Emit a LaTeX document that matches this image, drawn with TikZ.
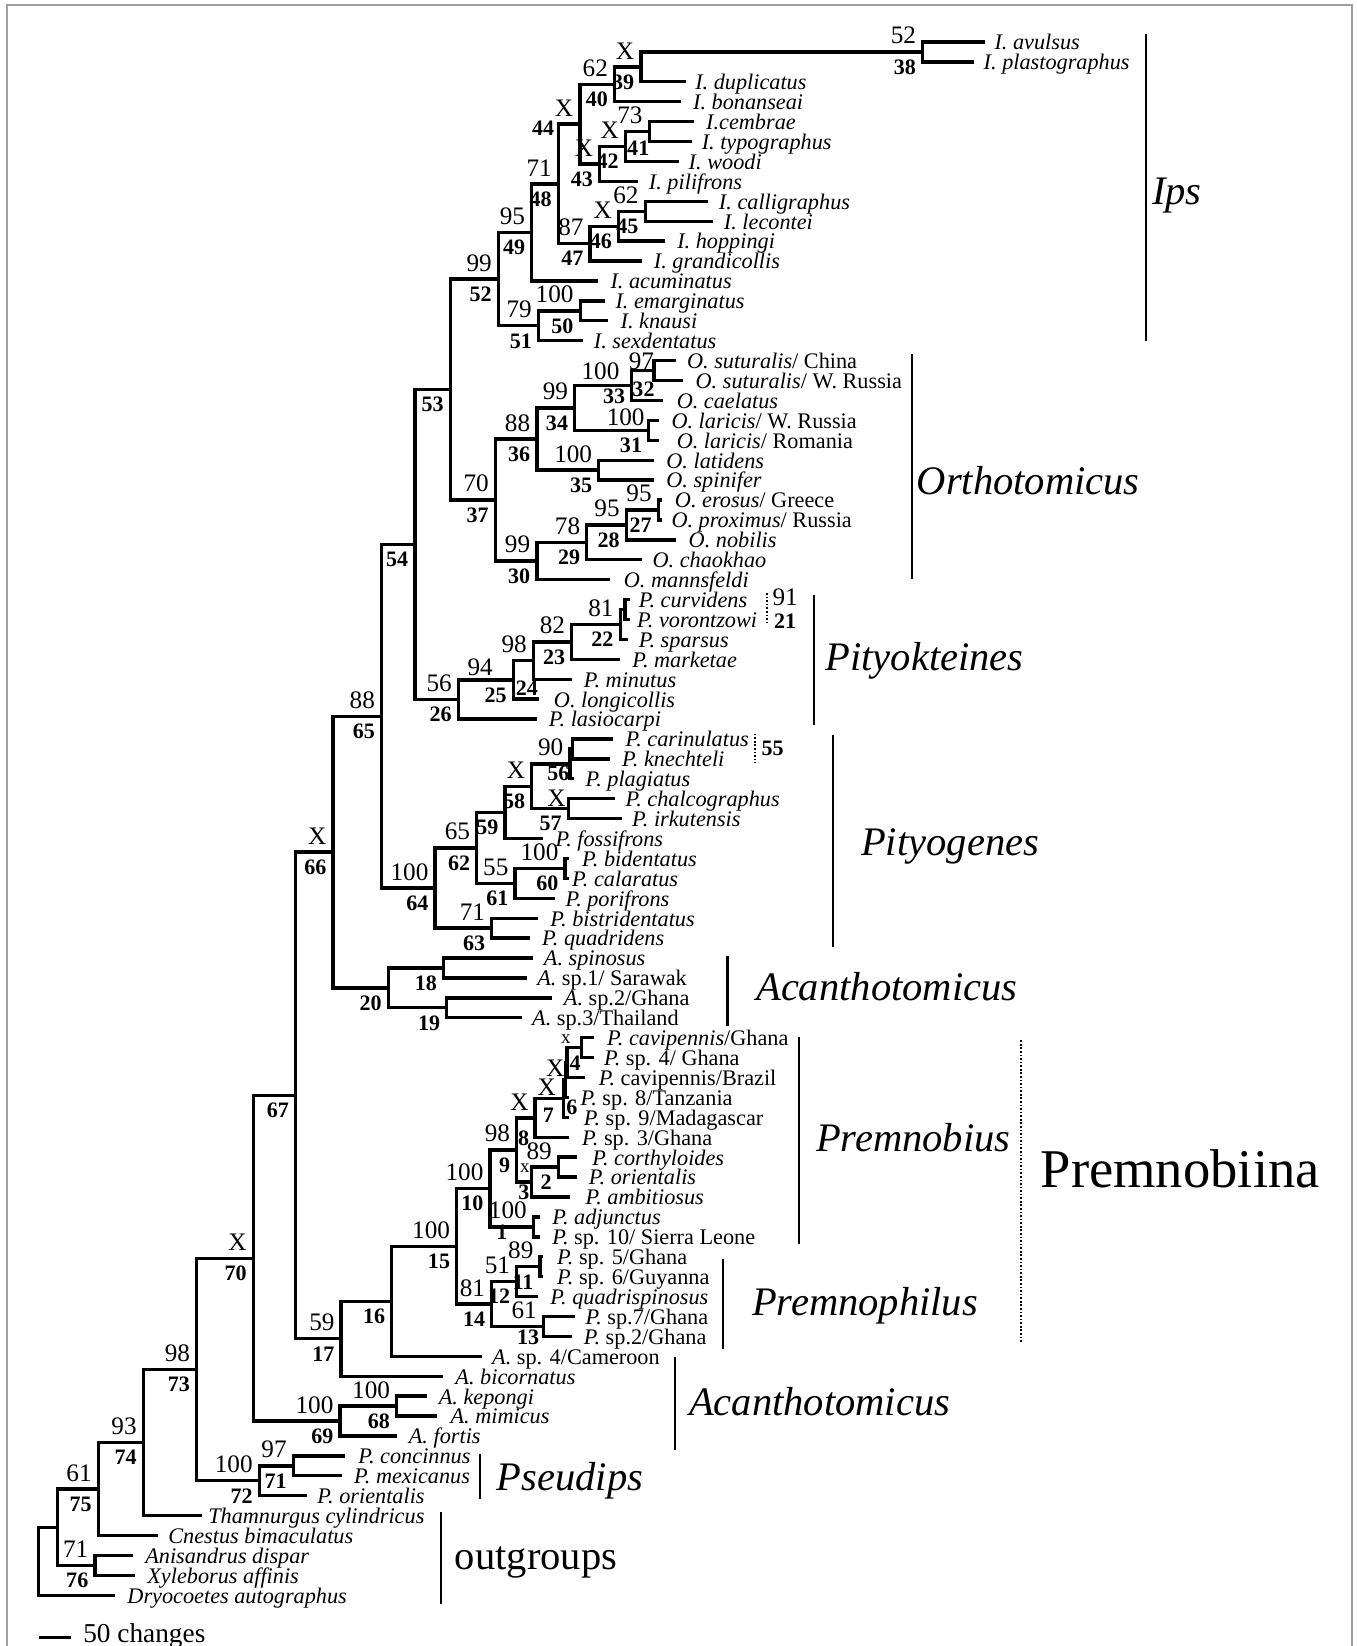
\documentclass[tikz,border=0pt]{standalone}
\usepackage{fontspec}
\setmainfont{Liberation Serif}
\usetikzlibrary{calc}
\newcommand\supfont{\fontsize{12}{13}\selectfont}
\newcommand\numfont{\fontsize{10.5}{12}\selectfont\bfseries}
\newcommand\mytip[4]{%
  \coordinate (e#1) at (#2,{40+18.97*(#1-1)});
  \node[tiplbl] (t#1) at (#3,{40+18.97*(#1-1)+7.5}) {#4};}
\newcommand\inode[4]{%
  \coordinate (#1x) at (#2,0);
  \coordinate (#1m) at ($(#3)!.5!(#4)$);
  \coordinate (#1) at (#1x |- #1m);
  \draw[br] (#3) -| (#1) |- (#4);}
\newcommand\sv[2]{\node[sup] (#1s) at (#1) {#2};}
\newcommand\nv[2]{\node[num] (#1n) at (#1) {#2};}
\begin{document}
\begin{tikzpicture}[x=0.5pt,y=-0.5pt,
 br/.style={line width=1.6pt, line cap=rect, line join=miter},
 bar/.style={line width=1pt},
 dotbar/.style={line width=0.8pt, dash pattern=on 0.8pt off 0.9pt},
 tiplbl/.style={anchor=base west, inner sep=0pt, font=\fontsize{10.6}{12}\selectfont},
 sup/.style={anchor=south east, inner sep=0pt, xshift=-3pt, yshift=3.5pt, font=\supfont},
 num/.style={anchor=north east, inner sep=0pt, xshift=-3pt, yshift=-3.5pt, font=\numfont},
 freesup/.style={inner sep=0pt, anchor=center, font=\supfont},
 freenum/.style={inner sep=0pt, anchor=center, font=\numfont},
 clade/.style={anchor=base west, inner sep=0pt, font=\fontsize{19.3}{22}\selectfont\itshape}]
\useasboundingbox (0,0) rectangle (1292,1568);
% frame
\coordinate (f1) at (6.5,1570); \coordinate (f2) at (6.5,4.8);
\coordinate (f3) at (1288,4.8); \coordinate (f4) at (1288,1570);
\draw[gray!75, line width=0.8pt] (f1) -- (f2) -- (f3) -- (f4);
% tips
\mytip{1}{936.7}{947}{\textit{I. avulsus}}
\mytip{2}{926.4}{936.7}{\textit{I. plastographus}}
\mytip{3}{651.6}{661.9}{\textit{I. duplicatus}}
\mytip{4}{647.5}{659.9}{\textit{I. bonanseai}}
\mytip{5}{659.9}{672.3}{\textit{I.cembrae}}
\mytip{6}{657.8}{668.1}{\textit{I. typographus}}
\mytip{7}{645.4}{655.7}{\textit{I. woodi}}
\mytip{8}{606.6}{617.8}{\textit{I. pilifrons}}
\mytip{9}{673.3}{684.5}{\textit{I. calligraphus}}
\mytip{10}{678}{689.2}{\textit{I. lecontei}}
\mytip{11}{632}{644.8}{\textit{I. hoppingi}}
\mytip{12}{609.8}{622.5}{\textit{I. grandicollis}}
\mytip{13}{568.5}{581.2}{\textit{I. acuminatus}}
\mytip{14}{575}{586}{\textit{I. emarginatus}}
\mytip{15}{578}{590.8}{\textit{I. knausi}}
\mytip{16}{554.2}{565.4}{\textit{I. sexdentatus}}
\mytip{17}{642.6}{654.1}{\textit{O. suturalis}/ China}
\mytip{18}{649.2}{662.3}{\textit{O. suturalis}/ W. Russia}
\mytip{19}{629.5}{644.3}{\textit{O. caelatus}}
\mytip{20}{626.2}{639.3}{\textit{O. laricis}/ W. Russia}
\mytip{21}{626.2}{644.3}{\textit{O. laricis}/ Romania}
\mytip{22}{621.3}{634.4}{\textit{O. latidens}}
\mytip{23}{621.3}{634.4}{\textit{O. spinifer}}
\mytip{24}{629}{642.6}{\textit{O. erosus}/ Greece}
\mytip{25}{629}{639.3}{\textit{O. proximus}/ Russia}
\mytip{26}{642.6}{655.7}{\textit{O. nobilis}}
\mytip{27}{609.8}{621.3}{\textit{O. chaokhao}}
\mytip{28}{579.7}{593.9}{\textit{O. mannsfeldi}}
\mytip{29}{598.7}{608.2}{\textit{P. curvidens}}
\mytip{30}{598.7}{606.6}{\textit{P. vorontzowi}}
\mytip{31}{597.1}{608.2}{\textit{P. sparsus}}
\mytip{32}{589.2}{601.9}{\textit{P. marketae}}
\mytip{33}{543.1}{555.8}{\textit{P. minutus}}
\mytip{34}{511.4}{527.3}{\textit{O. longicollis}}
\mytip{35}{509.8}{522.5}{\textit{P. lasiocarpi}}
\mytip{36}{582.8}{595.5}{\textit{P. carinulatus}}
\mytip{37}{579.6}{592.3}{\textit{P. knechteli}}
\mytip{38}{545}{557.4}{\textit{P. plagiatus}}
\mytip{39}{584.4}{595.5}{\textit{P. chalcographus}}
\mytip{40}{590.7}{601.8}{\textit{P. irkutensis}}
\mytip{41}{516.1}{528.8}{\textit{P. fossifrons}}
\mytip{42}{540}{554.2}{\textit{P. bidentatus}}
\mytip{43}{540}{544.7}{\textit{P. calaratus}}
\mytip{44}{527.2}{538.3}{\textit{P. porifrons}}
\mytip{45}{511.3}{524}{\textit{P. bistridentatus}}
\mytip{46}{503.4}{516.1}{\textit{P. quadridens}}
\mytip{47}{506.6}{517.8}{\textit{A. spinosus}}
\mytip{48}{500.3}{511.4}{\textit{A.} sp.1/ Sarawak}
\mytip{49}{524.1}{536.8}{\textit{A.} sp.2/Ghana}
\mytip{50}{495.5}{506.6}{\textit{A.} sp.3/Thailand}
\mytip{51}{563.8}{578}{\textit{P. cavipennis}/Ghana}
\mytip{52}{563.8}{575}{\textit{P.} sp. 4/ Ghana}
\mytip{53}{555.8}{570}{\textit{P.} cavipennis/Brazil}
\mytip{54}{540}{552.7}{\textit{P.} sp. 8/Tanzania}
\mytip{55}{540}{555.8}{\textit{P.} sp. 9/Madagascar}
\mytip{56}{540}{554.2}{\textit{P.} sp. 3/Ghana}
\mytip{57}{548}{563.8}{\textit{P. corthyloides}}
\mytip{58}{548}{560.6}{\textit{P. orientalis}}
\mytip{59}{541.5}{557.4}{\textit{P. ambitiosus}}
\mytip{60}{513}{525.7}{\textit{P. adjunctus}}
\mytip{61}{513}{525.7}{\textit{P.} sp. 10/ Sierra Leone}
\mytip{62}{516}{530.4}{\textit{P.} sp. 5/Ghana}
\mytip{63}{516}{530.4}{\textit{P.} sp. 6/Guyanna}
\mytip{64}{511.3}{524}{\textit{P. quadrispinosus}}
\mytip{65}{546.3}{557.4}{\textit{P.} sp.7/Ghana}
\mytip{66}{543.1}{555.8}{\textit{P.} sp.2/Ghana}
\mytip{67}{457.3}{468.5}{\textit{A.} sp. 4/Cameroon}
\mytip{68}{420.8}{433.5}{\textit{A. bicornatus}}
\mytip{69}{405}{417.6}{\textit{A. kepongi}}
\mytip{70}{414.5}{428.8}{\textit{A. mimicus}}
\mytip{71}{376.3}{389.1}{\textit{A. fortis}}
\mytip{72}{327}{341}{\textit{P. concinnus}}
\mytip{73}{324}{337}{\textit{P. mexicanus}}
\mytip{74}{290.6}{302}{\textit{P. orientalis}}
\mytip{75}{190.6}{198}{\textit{Thamnurgus cylindricus}}
\mytip{76}{149}{160}{\textit{Cnestus bimaculatus}}
\mytip{77}{125.5}{138}{\textit{Anisandrus dispar}}
\mytip{78}{127}{140}{\textit{Xyleborus affinis}}
\mytip{79}{108}{121}{\textit{Dryocoetes autographus}}
% internal nodes
\inode{n38}{879}{e1}{e2}
\inode{n39}{610.5}{n38}{e3}
\inode{n40}{585.5}{n39}{e4}
\inode{n41}{618.5}{e5}{e6}
\inode{n42}{595.8}{n41}{e7}
\inode{n43}{571.3}{n42}{e8}
\inode{n44}{552.4}{n40}{n43}
\inode{n45}{614.6}{e9}{e10}
\inode{n46}{589.2}{n45}{e11}
\inode{n47}{562.2}{n46}{e12}
\inode{n48}{532}{n44}{n47}
\inode{n49}{506.6}{n48}{e13}
\inode{n50}{552.7}{e14}{e15}
\inode{n51}{513}{n50}{e16}
\inode{n52}{474.8}{n49}{n51}
\inode{n32}{623}{e17}{e18}
\inode{n33}{601.6}{n32}{e19}
\inode{n31}{618}{e20}{e21}
\inode{n34}{547.5}{n33}{n31}
\inode{n35}{570.4}{e22}{e23}
\inode{n36}{511.4}{n34}{n35}
\inode{n27}{627.2}{e24}{e25}
\inode{n28}{596.7}{n27}{e26}
\inode{n29}{559}{n28}{e27}
\inode{n30}{511.4}{n29}{e28}
\inode{n37}{472}{n36}{n30}
\inode{n53}{429}{n52}{n37}
\inode{n21}{595.5}{e29}{e30}
\inode{n22}{590.8}{n21}{e31}
\inode{n23}{544.7}{n22}{e32}
\inode{n24}{508.2}{n23}{e33}
\inode{n25}{489.1}{n24}{e34}
\inode{n26}{436.7}{n25}{e35}
\inode{n54}{395.2}{n53}{n26}
\inode{n55}{545.5}{e36}{e37}
\inode{n56}{543}{n55}{e38}
\inode{n57}{541.5}{e39}{e40}
\inode{n58}{506.6}{n56}{n57}
\inode{n59}{481.2}{n58}{e41}
\inode{n60}{538.3}{e42}{e43}
\inode{n61}{490.7}{n60}{e44}
\inode{n62}{454.2}{n59}{n61}
\inode{n63}{468.5}{e45}{e46}
\inode{n64}{414.5}{n62}{n63}
\inode{n65}{363.5}{n54}{n64}
\inode{n18}{422.5}{e47}{e48}
\inode{n19}{425.6}{e49}{e50}
\inode{n20}{370}{n18}{n19}
\inode{n66}{317.3}{n65}{n20}
\inode{na}{554.2}{e51}{e52}
\inode{n4}{540}{na}{e53}
\inode{n5}{538.4}{n4}{e54}
\inode{n6}{536.6}{n5}{e55}
\inode{n7}{509.8}{n6}{e56}
\inode{n2}{532}{e57}{e58}
\inode{n3}{506.6}{n2}{e59}
\inode{n9}{492.3}{n7}{n3}
\inode{n1}{508.2}{e60}{e61}
\inode{n10}{466.9}{n9}{n1}
\inode{n11}{514.5}{e62}{e63}
\inode{n12}{492.3}{n11}{e64}
\inode{n13}{517.7}{e65}{e66}
\inode{n14}{468.5}{n12}{n13}
\inode{n15}{435.1}{n10}{n14}
\inode{n16}{373.2}{n15}{e67}
\inode{n17}{325}{n16}{e68}
\inode{n67}{281.7}{n66}{n17}
\inode{n68}{377.9}{e69}{e70}
\inode{n69}{324}{n68}{e71}
\inode{n70}{241.4}{n67}{n69}
\inode{n71}{279.5}{e72}{e73}
\inode{n72}{247.1}{n71}{e74}
\inode{n73}{187.4}{n70}{n72}
\inode{n74}{136.6}{n73}{e75}
\inode{n75}{93.7}{n74}{e76}
\inode{n76}{90.5}{e77}{e78}
\inode{nu}{54.6}{n75}{n76}
\inode{root}{36.5}{nu}{e79}
% support / node-number labels
\sv{n38}{52}\nv{n38}{38}
\sv{n39}{X}\nv{n39}{39}
\sv{n40}{62}\nv{n40}{40}
\sv{n41}{73}
\node[freenum] (l41) at (608,141) {41};
\sv{n42}{X}\nv{n42}{42}
\sv{n43}{X}\nv{n43}{43}
\sv{n44}{X}
\node[freenum] (l44) at (517.3,122.3) {44};
\sv{n45}{62}\nv{n45}{45}
\sv{n46}{X}\nv{n46}{46}
\sv{n47}{87}\nv{n47}{47}
\sv{n48}{71}\nv{n48}{48}
\sv{n49}{95}\nv{n49}{49}
\sv{n50}{100}\nv{n50}{50}
\sv{n51}{79}\nv{n51}{51}
\sv{n52}{99}\nv{n52}{52}
\nv{n53}{53}
\node[freesup] (l97) at (611,344) {97};
\node[freenum] (l32) at (613,371) {32};
\node[freesup] (l100b) at (572,354) {100};
\node[freenum] (l33) at (585,378) {33};
\node[freesup] (l100c) at (596,397) {100};
\nv{n31}{31}
\sv{n34}{99}\nv{n34}{34}
\sv{n35}{100}\nv{n35}{35}
\sv{n36}{88}\nv{n36}{36}
\sv{n27}{95}\nv{n27}{27}
\sv{n28}{95}\nv{n28}{28}
\sv{n29}{78}\nv{n29}{29}
\sv{n30}{99}\nv{n30}{30}
\sv{n37}{70}\nv{n37}{37}
\nv{n54}{54}
\sv{n22}{81}\nv{n22}{22}
\sv{n23}{82}\nv{n23}{23}
\sv{n24}{98}
\node[freenum] (l24) at (501.9,655.8) {24};
\node[freesup] (l94) at (457.4,635.2) {94};
\nv{n25}{25}
\sv{n26}{56}\nv{n26}{26}
\sv{n65}{88}\nv{n65}{65}
\sv{n56}{90}
\node[freenum] (l56) at (532,737) {56};
\node[freesup] (lX57) at (530,760) {X};
\nv{n57}{57}
\sv{n58}{X}\nv{n58}{58}
\nv{n59}{59}
\sv{n60}{100}\nv{n60}{60}
\sv{n61}{55}\nv{n61}{61}
\sv{n62}{65}\nv{n62}{62}
\sv{n63}{71}\nv{n63}{63}
\sv{n64}{100}\nv{n64}{64}
\sv{n66}{X}\nv{n66}{66}
\nv{n18}{18}
\nv{n19}{19}
\nv{n20}{20}
\node[freesup, font=\fontsize{9}{10}\selectfont] (lxa) at (539,990) {x};
\node[freesup] (lX4) at (528.8,1018) {X};
\node[freenum] (l4) at (547.9,1013.2) {4};
\node[freesup] (lX6) at (520.9,1035.4) {X};
\node[freenum] (l6) at (544.7,1054.5) {6};
\sv{n7}{X}
\node[freenum] (l7) at (522.5,1062.4) {7};
\node[freenum] (l8) at (498.7,1084.6) {8};
\sv{n9}{98}\nv{n9}{9}
\sv{n2}{89}\nv{n2}{2}
\node[freesup, font=\fontsize{9}{10}\selectfont] (lx3) at (500,1113) {x};
\node[freenum] (l3) at (499,1135.5) {3};
\sv{n1}{100}
\node[freenum] (l1) at (478,1173.6) {1};
\sv{n10}{100}\nv{n10}{10}
\sv{n11}{89}\nv{n11}{11}
\sv{n12}{51}\nv{n12}{12}
\sv{n13}{61}
\node[freenum] (l13) at (503,1274) {13};
\sv{n14}{81}\nv{n14}{14}
\sv{n15}{100}\nv{n15}{15}
\nv{n16}{16}
\sv{n17}{59}\nv{n17}{17}
\nv{n67}{67}
\sv{n68}{100}\nv{n68}{68}
\sv{n69}{100}\nv{n69}{69}
\sv{n70}{X}\nv{n70}{70}
\sv{n71}{97}\nv{n71}{71}
\sv{n72}{100}\nv{n72}{72}
\sv{n73}{98}\nv{n73}{73}
\sv{n74}{93}\nv{n74}{74}
\sv{n75}{61}\nv{n75}{75}
\sv{n76}{71}\nv{n76}{76}
% dotted side labels
\coordinate (d21a) at (730.5,565); \coordinate (d21b) at (730.5,594);
\draw[dotbar] (d21a) -- (d21b);
\node[freesup] (l91) at (748,569) {91};
\node[freenum] (l21) at (748,592) {21};
\coordinate (d55a) at (719.4,699); \coordinate (d55b) at (719.4,727);
\draw[dotbar] (d55a) -- (d55b);
\node[freenum] (l55) at (736,713) {55};
% clade bars
\coordinate (bIa) at (1092,32); \coordinate (bIb) at (1092,325);
\coordinate (bOa) at (869,337); \coordinate (bOb) at (869,552);
\coordinate (bKa) at (775,567); \coordinate (bKb) at (775,691);
\coordinate (bGa) at (793.7,700); \coordinate (bGb) at (793.7,902);
\coordinate (bAa) at (693,911); \coordinate (bAb) at (693,977);
\coordinate (bBa) at (761,988); \coordinate (bBb) at (761,1185);
\coordinate (bPa) at (689,1199); \coordinate (bPb) at (689,1285);
\coordinate (bNa) at (972.4,991); \coordinate (bNb) at (972.4,1278);
\coordinate (bCa) at (643,1293); \coordinate (bCb) at (643,1381);
\coordinate (bSa) at (457,1385); \coordinate (bSb) at (457,1428);
\coordinate (bUa) at (420,1440); \coordinate (bUb) at (420,1528);
\draw[bar] (bIa) -- (bIb);
\draw[bar] (bOa) -- (bOb);
\draw[bar] (bKa) -- (bKb);
\draw[bar] (bGa) -- (bGb);
\draw[bar] (bAa) -- (bAb);
\draw[bar] (bBa) -- (bBb);
\draw[bar] (bPa) -- (bPb);
\draw[dotbar] (bNa) -- (bNb);
\draw[bar] (bCa) -- (bCb);
\draw[bar] (bSa) -- (bSb);
\draw[bar] (bUa) -- (bUb);
% clade names
\node[clade] (cIps) at (1097,195) {Ips};
\node[clade] (cOrt) at (873,471) {Orthotomicus};
\node[clade] (cPyk) at (786,639) {Pityokteines};
\node[clade] (cPyg) at (820,815) {Pityogenes};
\node[clade] (cAc1) at (720,953) {Acanthotomicus};
\node[clade] (cPmb) at (777,1097) {Premnobius};
\node[clade, font=\fontsize{26}{30}\selectfont] (cPmn) at (991,1131) {Premnobiina};
\node[clade] (cPmp) at (716,1253) {Premnophilus};
\node[clade] (cAc2) at (656,1348) {Acanthotomicus};
\node[clade] (cPsd) at (473,1420) {Pseudips};
\node[clade, font=\fontsize{19.3}{22}\selectfont] (cOut) at (433,1495) {outgroups};
% scale bar
\coordinate (sb1) at (37,1560); \coordinate (sb2) at (68,1560);
\draw[line width=1.6pt] (sb1) -- (sb2);
\node[anchor=base west, inner sep=0pt, font=\fontsize{13}{15}\selectfont] (sbl) at (79,1565) {50 changes};
\end{tikzpicture}
\end{document}
